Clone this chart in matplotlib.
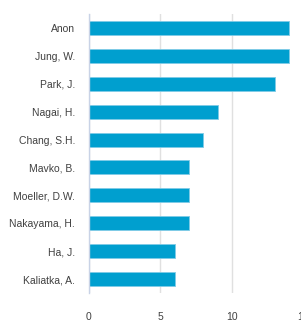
import matplotlib.pyplot as plt

authors = ['Anon', 'Jung, W.', 'Park, J.', 'Nagai, H.', 'Chang, S.H.',
           'Mavko, B.', 'Moeller, D.W.', 'Nakayama, H.', 'Ha, J.', 'Kaliatka, A.']
counts = [14, 14, 13, 9, 8, 7, 7, 7, 6, 6]
xticks = [0, 5, 10, 15]

plt.rcParams['font.family'] = ['Liberation Sans Narrow', 'DejaVu Sans Condensed', 'Liberation Sans', 'DejaVu Sans']

fig = plt.figure(figsize=(3.01, 3.23), dpi=100)
# axis runs a bit past the right edge, like the cropped original
ax = fig.add_axes([89 / 301, 1 - 293 / 323, 214.5 / 301, 279 / 323])

pos = list(range(len(authors)))
ax.barh(pos, counts, height=0.5, color='#009FCF', edgecolor='#7fcbe6', linewidth=0.6, zorder=3)
ax.set_ylim(len(authors) - 0.5, -0.5)
ax.set_xlim(0, 15)
ax.set_yticks(pos)
ax.set_yticklabels(authors)
ax.set_xticks(xticks)
ax.set_xticklabels([str(t) for t in xticks])

ax.tick_params(axis='both', length=0, labelsize=7.5, labelcolor='#404040')
ax.tick_params(axis='y', pad=10)
ax.tick_params(axis='x', pad=14)
ax.xaxis.grid(True, color='#e0e0e0', linewidth=1, zorder=0)
for s in ['top', 'right', 'bottom']:
    ax.spines[s].set_visible(False)
ax.spines['left'].set_color('#c9d3e6')
ax.spines['left'].set_linewidth(1)
ax.spines['left'].set_zorder(4)

fig.savefig('out.png', dpi=100)
